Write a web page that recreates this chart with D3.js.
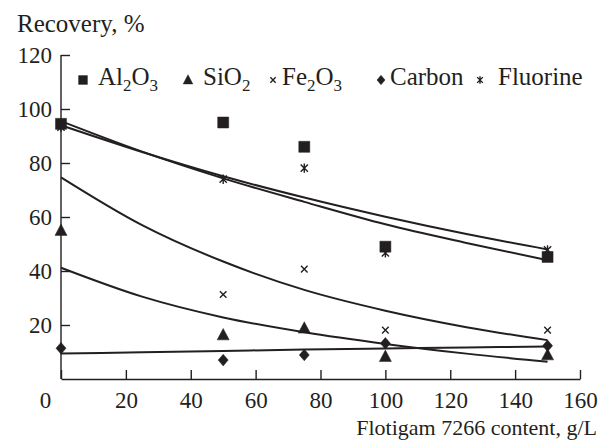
<!DOCTYPE html>
<html lang="en">
<head>
<meta charset="utf-8">
<title>Recovery vs Flotigam 7266 content</title>
<script src="https://cdnjs.cloudflare.com/ajax/libs/d3/7.8.5/d3.min.js"></script>
<style>
  body { margin: 0; background: #fff; }
  svg { display: block; font-family: "Liberation Serif", "Times New Roman", serif; }
  .axis path, .axis line { stroke: #231f20; stroke-width: 1.4px; }
  .axis text { fill: #231f20; font-size: 23px; font-family: "Liberation Serif", serif; }
  .trend { fill: none; stroke: #231f20; stroke-width: 2px; }
</style>
</head>
<body>
<div id="chart"></div>
<script>
// measured points
var xVals = [0, 50, 75, 100, 150];
var al2o3 = [94.5, 95, 86, 49, 45.2];
var sio2 = [55, 16.3, 18.8, 8.3, 8.9];
var fe2o3 = [null, 31.3, 40.7, 18.1, 18.1];
var carbon = [11.4, 7.0, 8.9, 13.2, 12.3];
var fluorine = [93.3, 74, 78.1, 46.7, 47.8];

// trend curves
var trendX = [0, 25, 50, 75, 100, 125, 150];
var trendAl = [95.5, 84.2, 74.3, 65.6, 57.3, 50.4, 44];
var trendF = [94, 84.1, 75.1, 67.2, 60.1, 53.7, 48];
var trendFe = [74.7, 57, 43.5, 33, 25.3, 19.2, 14.4];
var trendSi = [41.2, 30.5, 22.8, 17.3, 13, 9.4, 6.4];
var trendC = [9.4, 9.9, 10.4, 10.9, 11.3, 11.7, 12];

var xTicks = [0, 20, 40, 60, 80, 100, 120, 140, 160];
var yTicks = [20, 40, 60, 80, 100, 120];

var legendItems = [
  { shape: "square", main: ["Al", "O"], subs: ["2", "3"], x: 83 },
  { shape: "triangle", main: ["SiO"], subs: ["2"], x: 188 },
  { shape: "cross", main: ["Fe", "O"], subs: ["2", "3"], x: 273 },
  { shape: "diamond", main: ["Carbon"], subs: [], x: 381 },
  { shape: "asterisk", main: ["Fluorine"], subs: [], x: 480 }
];

var series = [
  { values: al2o3, shape: "square" },
  { values: sio2, shape: "triangle" },
  { values: fe2o3, shape: "cross" },
  { values: carbon, shape: "diamond" },
  { values: fluorine, shape: "asterisk" }
];

var width = 609, height = 445;
var ink = "#231f20";

var svg = d3.select("#chart").append("svg")
  .attr("width", width)
  .attr("height", height);

var x = d3.scaleLinear().domain([0, 160]).range([61, 580]);
var y = d3.scaleLinear().domain([0, 120]).range([379, 55]);

// marker paths, s = scale (1 in plot, smaller in legend)
function markerPath(shape, s) {
  var p = d3.path();
  if (shape === "square") {
    var h = 5.5 * s;
    p.rect(-h, -h, 2 * h, 2 * h);
  } else if (shape === "triangle") {
    var w = 6 * s, t = 6.5 * s;
    p.moveTo(0, -t); p.lineTo(w, t * 0.75); p.lineTo(-w, t * 0.75); p.closePath();
  } else if (shape === "diamond") {
    var dw = 5 * s, dh = 5.8 * s;
    p.moveTo(0, -dh); p.lineTo(dw, 0); p.lineTo(0, dh); p.lineTo(-dw, 0); p.closePath();
  } else if (shape === "cross") {
    var c = 3.3 * s;
    p.moveTo(-c, -c); p.lineTo(c, c); p.moveTo(-c, c); p.lineTo(c, -c);
  } else if (shape === "asterisk") {
    var a = 3.6 * s;
    p.moveTo(-a, -a); p.lineTo(a, a); p.moveTo(-a, a); p.lineTo(a, -a);
    p.moveTo(0, -a * 1.3); p.lineTo(0, a * 1.3);
  }
  return p.toString();
}

function drawMarker(g, shape, s) {
  var filled = shape === "square" || shape === "triangle" || shape === "diamond";
  g.append("path")
    .attr("d", markerPath(shape, s))
    .attr("fill", filled ? ink : "none")
    .attr("stroke", ink)
    .attr("stroke-width", filled ? 0.5 : 1.4);
}

// axes
var xAxis = svg.append("g")
  .attr("class", "axis")
  .attr("transform", "translate(0," + y(0) + ")")
  .call(d3.axisBottom(x).tickValues(xTicks).tickSize(-9).tickPadding(13).tickSizeOuter(0));
xAxis.selectAll(".tick").filter(function (d) { return d === 0; })
  .select("text").attr("x", -16);

var yAxis = svg.append("g")
  .attr("class", "axis")
  .attr("transform", "translate(" + x(0) + ",0)")
  .call(d3.axisLeft(y).tickValues(yTicks).tickSize(-9).tickPadding(9).tickSizeOuter(0));
yAxis.select(".domain").attr("d", "M0," + y(120) + "V" + y(0));

// trend lines
var line = d3.line()
  .x(function (d) { return x(d[0]); })
  .y(function (d) { return y(d[1]); })
  .curve(d3.curveMonotoneX);

[trendAl, trendF, trendFe, trendSi, trendC].forEach(function (vals) {
  svg.append("path")
    .attr("class", "trend")
    .attr("d", line(trendX.map(function (v, i) { return [v, vals[i]]; })));
});

// points
series.forEach(function (s) {
  s.values.forEach(function (v, i) {
    if (v === null) return;
    var g = svg.append("g")
      .attr("transform", "translate(" + x(xVals[i]) + "," + y(v) + ")");
    drawMarker(g, s.shape, 1);
  });
});

// legend
var legend = svg.append("g").attr("class", "legend");
legendItems.forEach(function (item) {
  var g = legend.append("g").attr("transform", "translate(" + item.x + ",80)");
  drawMarker(g, item.shape, 0.8);
  var t = legend.append("text")
    .attr("x", item.x + (item.shape === "asterisk" ? 18 : item.shape === "cross" ? 9 : item.shape === "diamond" ? 9 : 15))
    .attr("y", 85)
    .attr("fill", ink)
    .style("font-size", "25px");
  var shift = 0;
  item.main.forEach(function (m, i) {
    t.append("tspan").attr("dy", -shift).text(m);
    shift = 0;
    if (item.subs[i]) {
      t.append("tspan").attr("dy", 6).style("font-size", "17px").text(item.subs[i]);
      shift = 6;
    }
  });
});

// axis titles
svg.append("text")
  .attr("x", 17).attr("y", 32)
  .attr("fill", ink)
  .style("font-size", "25px")
  .text("Recovery, %");

svg.append("text")
  .attr("x", 597).attr("y", 435)
  .attr("text-anchor", "end")
  .attr("fill", ink)
  .style("font-size", "22px")
  .text("Flotigam 7266 content, g/L");
</script>
</body>
</html>
